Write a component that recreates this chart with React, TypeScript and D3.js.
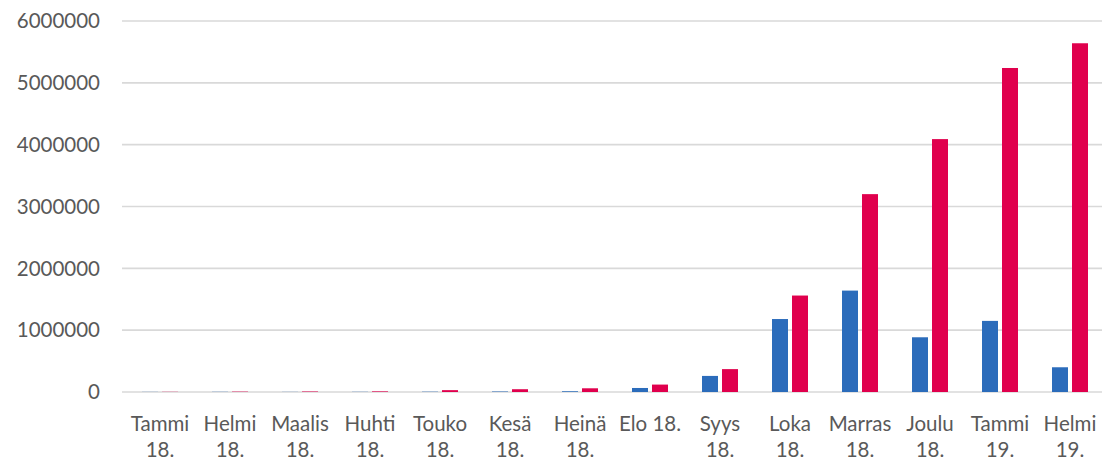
import React from "react";
import * as d3 from "d3";

const categories = [
  "Tammi 18.", "Helmi 18.", "Maalis 18.", "Huhti 18.", "Touko 18.", "Kesä 18.", "Heinä 18.",
  "Elo 18.", "Syys 18.", "Loka 18.", "Marras 18.", "Joulu 18.", "Tammi 19.", "Helmi 19.",
];
const seriesBlue = [2000, 3000, 2000, 3000, 5000, 8000, 12000, 65000, 260000, 1180000, 1640000, 885000, 1150000, 400000];
const seriesRed = [3000, 6000, 8000, 10000, 30000, 45000, 60000, 120000, 370000, 1560000, 3200000, 4090000, 5240000, 5640000];
const yTicks = [0, 1000000, 2000000, 3000000, 4000000, 5000000, 6000000];

const W = 1102;
const H = 462;
const BLUE = "#2B6CBB";
const RED = "#E0004D";
const TEXT = "#595959";
const GRID = "#D9D9D9";
const FONT = "Lato, 'Open Sans', sans-serif";

function wrap(label: string): string[] {
  if (label.length <= 7) return [label];
  return label.split(" ");
}

export default function App() {
  const x = d3.scaleBand<string>().domain(categories).range([125, 1105]).paddingInner(0).paddingOuter(0);
  const sub = d3.scaleBand<string>().domain(["blue", "red"]).range([17, 53]).paddingInner(0.2).paddingOuter(0);
  const y = d3.scaleLinear().domain([0, 6000000]).range([392, 21]);

  return (
    <svg width={W} height={H} style={{ position: "absolute", left: 0, top: 0, background: "#fff" }}>
      {yTicks.map((t) => (
        <g key={t}>
          <line x1={122} x2={1102} y1={y(t)} y2={y(t)} stroke={GRID} strokeWidth={1.6} />
          <text x={100} y={y(t)} dy="0.35em" textAnchor="end" fontFamily={FONT} fontSize={20.5} fill={TEXT}>
            {t}
          </text>
        </g>
      ))}
      {categories.map((c, i) => {
        const x0 = x(c)!;
        const yb = y(seriesBlue[i]);
        const yr = y(seriesRed[i]);
        return (
          <g key={c}>
            <rect x={x0 + sub("blue")!} y={yb} width={sub.bandwidth()} height={y(0) - yb} fill={BLUE} />
            <rect x={x0 + sub("red")!} y={yr} width={sub.bandwidth()} height={y(0) - yr} fill={RED} />
          </g>
        );
      })}
      {categories.map((c) => {
        const cx = x(c)! + x.bandwidth() / 2;
        const lines = wrap(c);
        return (
          <text key={c} textAnchor="middle" fontFamily={FONT} fontSize={20.5} fill={TEXT}>
            {lines.map((l, j) => (
              <tspan key={j} x={cx} y={431 + j * 26}>
                {l}
              </tspan>
            ))}
          </text>
        );
      })}
    </svg>
  );
}
